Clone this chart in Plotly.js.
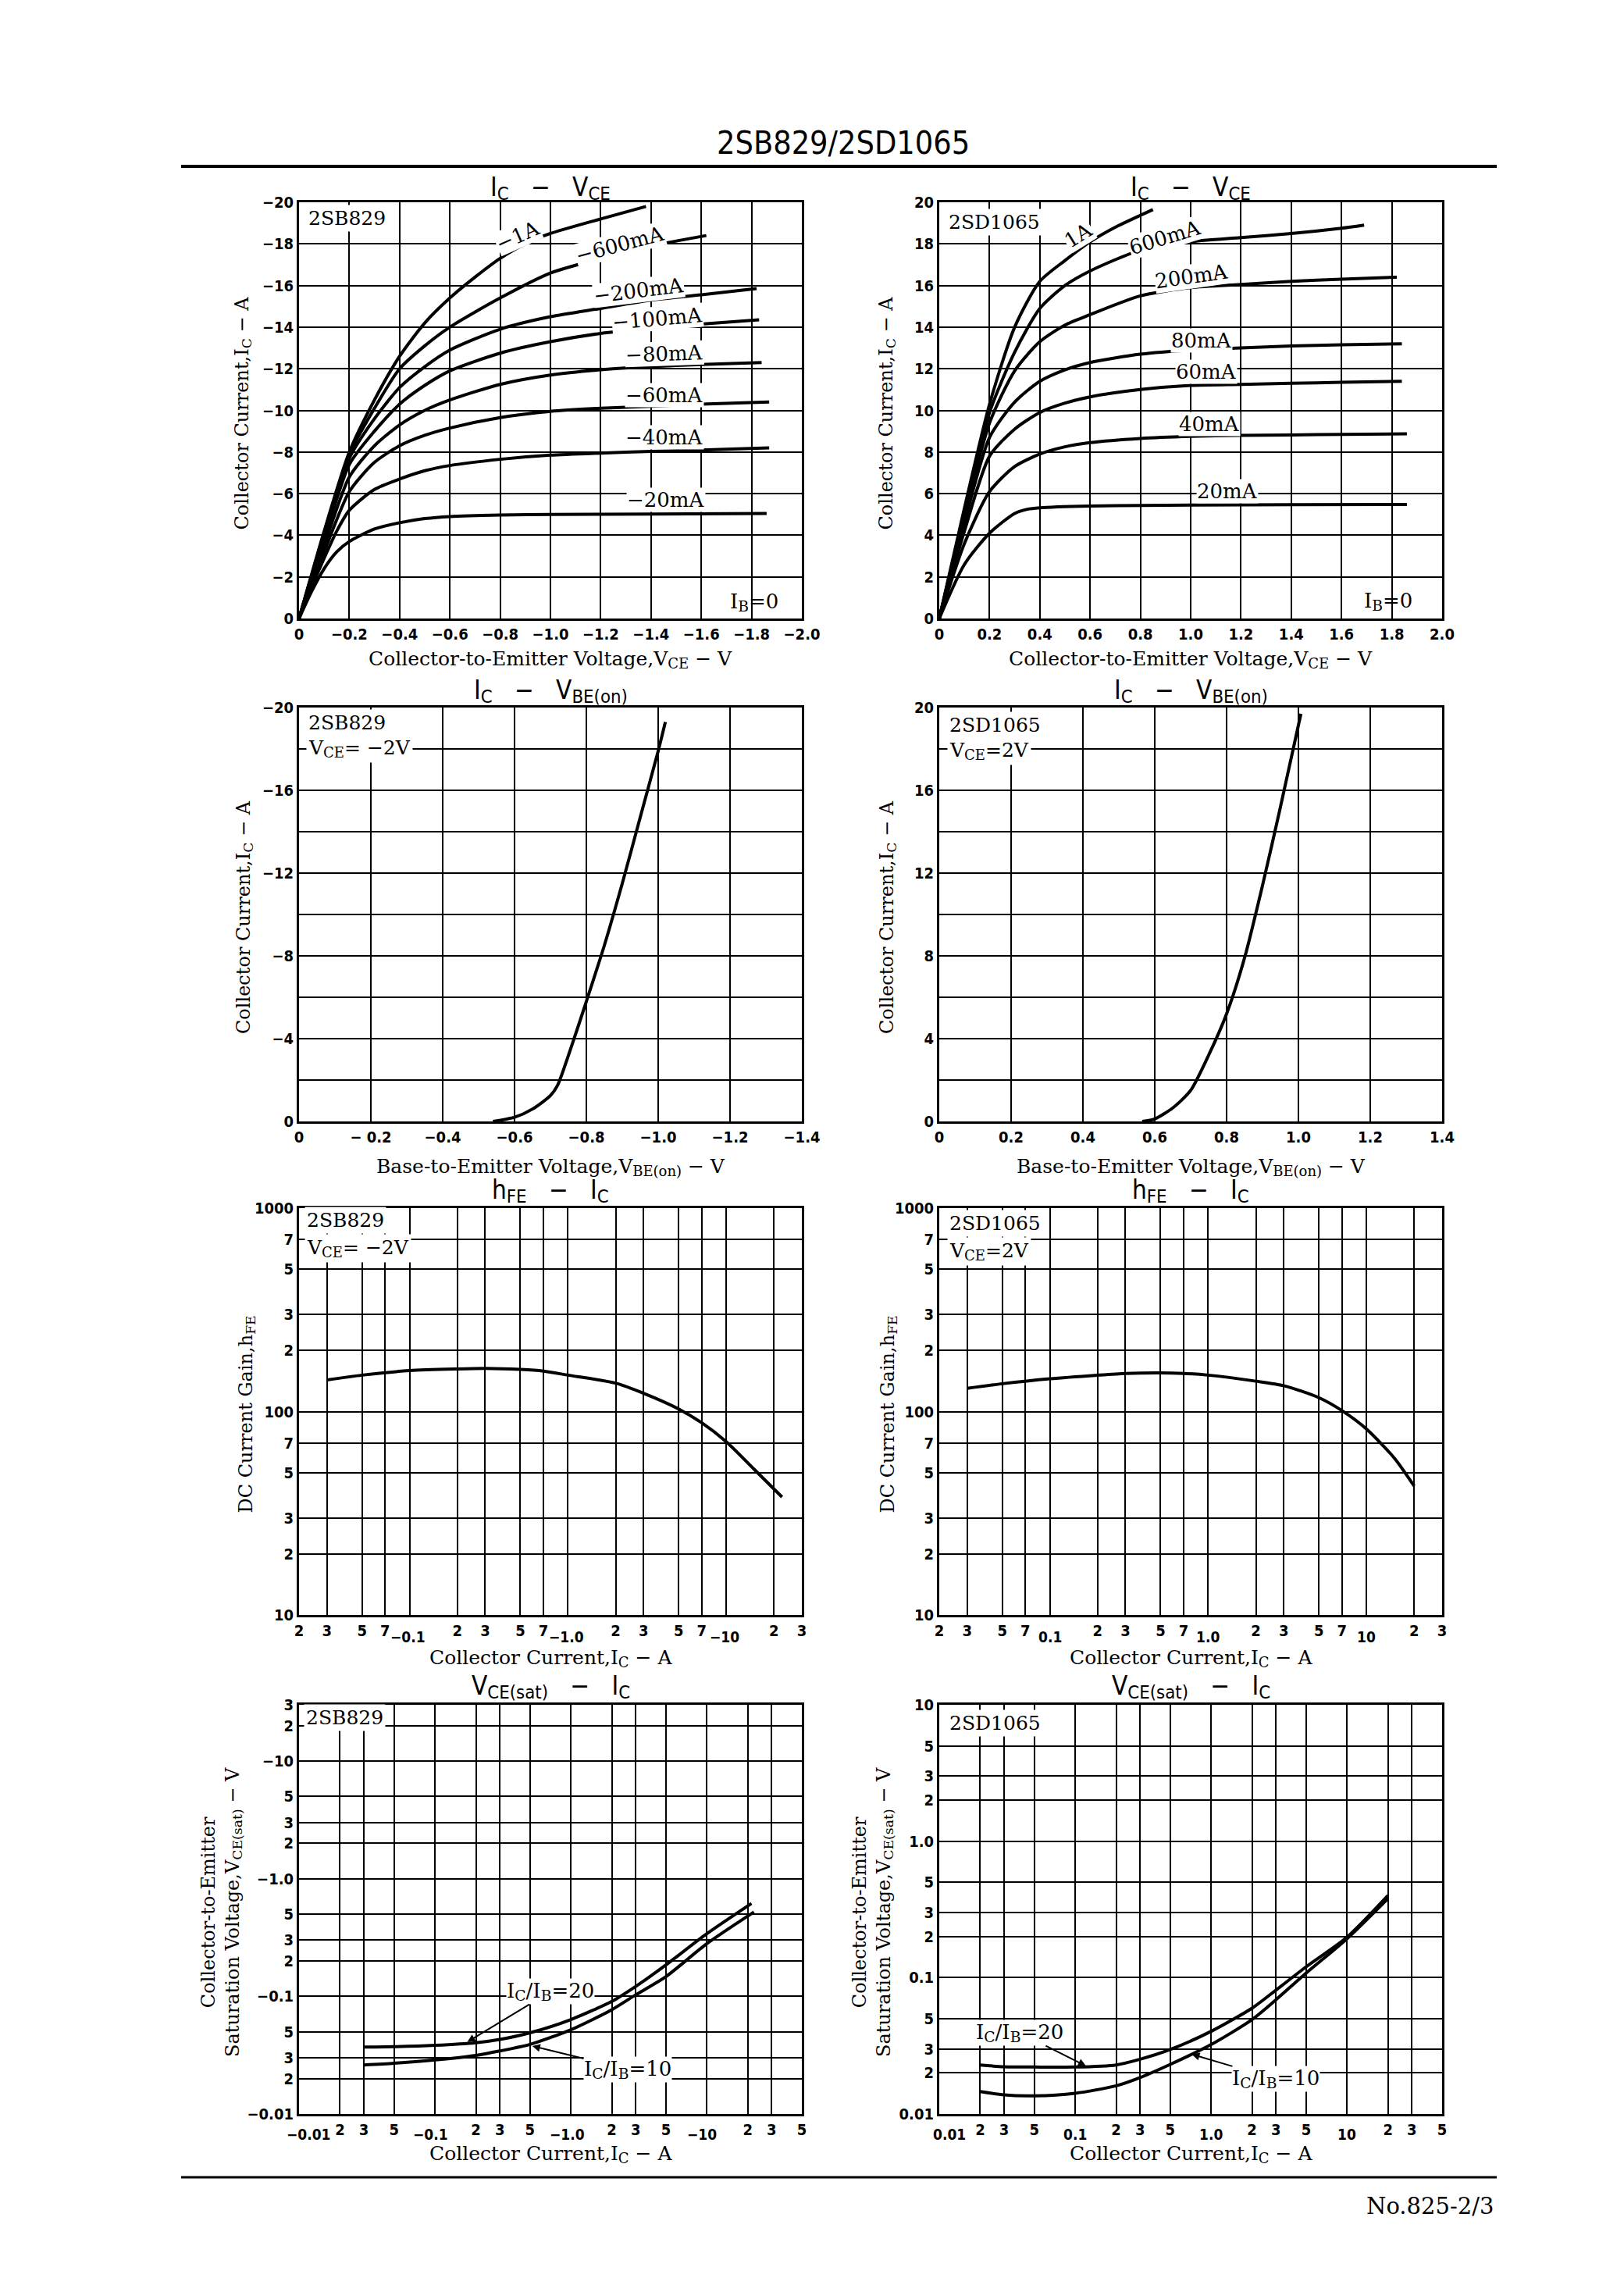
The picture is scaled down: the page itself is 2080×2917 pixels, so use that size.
<!DOCTYPE html>
<html><head><meta charset="utf-8">
<script src="https://cdn.plot.ly/plotly-3.0.1.min.js"></script>
<style>html,body{margin:0;padding:0;background:#fff}#chart{width:2080px;height:2917px}</style>
</head><body><div id="chart"></div>
<script>
// ================= DATA =================
// Panel 1: 2SB829  IC - VCE
const sb_vce_1A  = [0,-0.1,-0.2,-0.3,-0.4,-0.5,-0.6,-0.7,-0.8,-0.9,-1.0,-1.2,-1.38];
const sb_ic_1A   = [0,-4.2,-8.0,-10.5,-12.6,-14.2,-15.4,-16.4,-17.3,-18.0,-18.5,-19.2,-19.8];
const sb_vce_600 = [0,-0.1,-0.2,-0.3,-0.4,-0.5,-0.6,-0.8,-1.0,-1.2,-1.4,-1.62];
const sb_ic_600  = [0,-4.1,-7.9,-10.1,-12.0,-13.1,-14.0,-15.4,-16.6,-17.3,-17.9,-18.4];
const sb_vce_200 = [0,-0.1,-0.2,-0.3,-0.4,-0.5,-0.6,-0.8,-1.0,-1.2,-1.4,-1.6,-1.82];
const sb_ic_200  = [0,-4.0,-7.7,-9.6,-11.1,-12.1,-12.9,-13.9,-14.5,-14.9,-15.3,-15.55,-15.85];
const sb_vce_100 = [0,-0.1,-0.2,-0.3,-0.4,-0.5,-0.6,-0.8,-1.0,-1.2,-1.4,-1.6,-1.83];
const sb_ic_100  = [0,-3.8,-7.4,-9.0,-10.3,-11.2,-11.9,-12.75,-13.3,-13.7,-13.95,-14.15,-14.35];
const sb_vce_80  = [0,-0.1,-0.2,-0.3,-0.4,-0.5,-0.6,-0.8,-1.0,-1.2,-1.4,-1.6,-1.84];
const sb_ic_80   = [0,-3.5,-6.8,-8.3,-9.3,-10.0,-10.5,-11.25,-11.7,-11.95,-12.1,-12.2,-12.3];
const sb_vce_60  = [0,-0.1,-0.2,-0.3,-0.4,-0.5,-0.6,-0.8,-1.0,-1.2,-1.4,-1.6,-1.87];
const sb_ic_60   = [0,-3.2,-6.1,-7.5,-8.3,-8.8,-9.15,-9.65,-9.95,-10.1,-10.2,-10.3,-10.4];
const sb_vce_40  = [0,-0.05,-0.1,-0.15,-0.2,-0.3,-0.4,-0.5,-0.6,-0.8,-1.0,-1.2,-1.4,-1.6,-1.87];
const sb_ic_40   = [0,-1.5,-2.9,-4.2,-5.2,-6.2,-6.7,-7.1,-7.35,-7.65,-7.85,-7.95,-8.03,-8.1,-8.2];
const sb_vce_20  = [0,-0.05,-0.1,-0.15,-0.2,-0.3,-0.4,-0.5,-0.6,-0.8,-1.0,-1.4,-1.86];
const sb_ic_20   = [0,-1.3,-2.4,-3.2,-3.7,-4.3,-4.6,-4.8,-4.9,-4.97,-5.0,-5.02,-5.05];
const sb_ib_text = ['−1A','−600mA','−200mA','−100mA','−80mA','−60mA','−40mA','−20mA'];
const sb_ib_lx   = [-0.87,-1.277,-1.352,-1.425,-1.453,-1.453,-1.453,-1.46];
const sb_ib_ly   = [-18.4,-17.98,-15.76,-14.42,-12.73,-10.75,-8.7,-5.69];

// Panel 2: 2SD1065  IC - VCE
const ds_vce_1A  = [0,0.1,0.2,0.3,0.4,0.5,0.6,0.7,0.85];
const ds_ic_1A   = [0,5.3,10.3,14.0,16.2,17.2,18.1,18.8,19.65];
const ds_vce_600 = [0,0.1,0.2,0.3,0.4,0.5,0.6,0.8,1.0,1.2,1.4,1.6,1.69];
const ds_ic_600  = [0,5.1,9.9,12.8,14.9,16.0,16.7,17.7,18.1,18.3,18.5,18.75,18.9];
const ds_vce_200 = [0,0.1,0.2,0.3,0.4,0.5,0.6,0.8,1.0,1.2,1.4,1.6,1.82];
const ds_ic_200  = [0,4.9,9.4,11.9,13.3,14.1,14.6,15.5,15.9,16.05,16.2,16.3,16.4];
const ds_vce_80  = [0,0.1,0.2,0.3,0.4,0.5,0.6,0.8,1.0,1.2,1.4,1.6,1.84];
const ds_ic_80   = [0,4.6,8.7,10.4,11.4,11.95,12.3,12.7,12.9,13.0,13.1,13.15,13.2];
const ds_vce_60  = [0,0.1,0.2,0.3,0.4,0.5,0.6,0.8,1.0,1.2,1.4,1.6,1.84];
const ds_ic_60   = [0,4.2,7.8,9.1,9.9,10.35,10.65,11.0,11.2,11.25,11.3,11.35,11.4];
const ds_vce_40  = [0,0.1,0.2,0.3,0.4,0.5,0.6,0.8,1.0,1.2,1.4,1.6,1.86];
const ds_ic_40   = [0,3.6,6.1,7.3,7.9,8.25,8.45,8.65,8.75,8.8,8.82,8.85,8.87];
const ds_vce_20  = [0,0.1,0.2,0.3,0.35,0.4,0.6,0.8,1.0,1.4,1.86];
const ds_ic_20   = [0,2.6,4.1,5.05,5.25,5.32,5.4,5.43,5.45,5.47,5.48];
const ds_ib_text = ['1A','600mA','200mA','80mA','60mA','40mA','20mA'];
const ds_ib_lx   = [0.555,0.899,1.002,1.045,1.061,1.073,1.146];
const ds_ib_ly   = [18.42,18.31,16.45,13.37,11.87,9.34,6.11];

// Panel 3/4: IC - VBE(on)
const sb_vbe     = [-0.54,-0.6,-0.65,-0.7,-0.72,-0.76,-0.8,-0.85,-0.9,-0.95,-1.0,-1.02];
const sb_ic_vbe  = [0,-0.2,-0.6,-1.25,-1.75,-3.7,-5.8,-8.5,-11.5,-14.7,-17.9,-19.3];
const ds_vbe     = [0.565,0.6,0.65,0.7,0.75,0.8,0.85,0.9,0.95,1.007];
const ds_ic_vbe  = [0,0.12,0.65,1.5,3.2,5.2,7.9,11.4,15.2,19.7];

// Panel 5/6: hFE - IC  (|IC| in A)
const sb_hfe_ic  = [0.03,0.05,0.1,0.2,0.3,0.5,0.7,1,2,3,5,7,10,15,22.5];
const sb_hfe     = [143,151,159,162,163,161,158,151,138,123,103,88,71,52,38];
const ds_hfe_ic  = [0.03,0.05,0.1,0.2,0.3,0.5,0.7,1,2,3,5,7,10,15,20];
const ds_hfe     = [130,137,145,151,154,155,154,151,141,134,117,101,82,59,43];

// Panel 7/8: VCE(sat) - IC  (magnitudes)
const sb_sat_ic20 = [0.03,0.05,0.1,0.2,0.3,0.5,1,2,3,5,10,21.3];
const sb_sat_v20  = [0.037,0.0373,0.0383,0.0403,0.043,0.049,0.0635,0.0906,0.1215,0.185,0.34,0.615];
const sb_sat_ic10 = [0.03,0.05,0.1,0.2,0.3,0.5,1,2,3,5,10,22.2];
const sb_sat_v10  = [0.0261,0.027,0.0288,0.0315,0.0343,0.039,0.052,0.077,0.103,0.147,0.28,0.52];
const ds_sat_ic   = [0.02,0.03,0.05,0.1,0.2,0.3,0.5,1,2,3,5,10,20];
const ds_sat_v20  = [0.0229,0.0222,0.0221,0.0221,0.0229,0.0252,0.0297,0.0404,0.0597,0.081,0.12,0.198,0.40];
const ds_sat_v10  = [0.0146,0.0138,0.0136,0.0142,0.0161,0.0185,0.0231,0.0323,0.0492,0.0688,0.108,0.193,0.38];

// Tick values / labels
const p1_xticks = [0,-0.2,-0.4,-0.6,-0.8,-1.0,-1.2,-1.4,-1.6,-1.8,-2.0];
const p1_xtext  = ['0','−0.2','−0.4','−0.6','−0.8','−1.0','−1.2','−1.4','−1.6','−1.8','−2.0'];
const p1_yticks = [0,-2,-4,-6,-8,-10,-12,-14,-16,-18,-20];
const p1_ytext  = ['0','−2','−4','−6','−8','−10','−12','−14','−16','−18','−20'];
const p2_xticks = [0,0.2,0.4,0.6,0.8,1.0,1.2,1.4,1.6,1.8,2.0];
const p2_xtext  = ['0','0.2','0.4','0.6','0.8','1.0','1.2','1.4','1.6','1.8','2.0'];
const p2_yticks = [0,2,4,6,8,10,12,14,16,18,20];
const p2_ytext  = ['0','2','4','6','8','10','12','14','16','18','20'];
const p3_xticks = [0,-0.2,-0.4,-0.6,-0.8,-1.0,-1.2,-1.4];
const p3_xtext  = ['0','− 0.2','−0.4','−0.6','−0.8','−1.0','−1.2','−1.4'];
const p3_yticks = [0,-4,-8,-12,-16,-20];
const p3_ytext  = ['0','−4','−8','−12','−16','−20'];
const p3_yminor = [-2,-6,-10,-14,-18];
const p4_xticks = [0,0.2,0.4,0.6,0.8,1.0,1.2,1.4];
const p4_xtext  = ['0','0.2','0.4','0.6','0.8','1.0','1.2','1.4'];
const p4_yticks = [0,4,8,12,16,20];
const p4_ytext  = ['0','4','8','12','16','20'];
const p4_yminor = [2,6,10,14,18];
const hfe_xticks = [0.02,0.03,0.05,0.07,0.2,0.3,0.5,0.7,2,3,5,7,20,30];
const hfe_xtext  = ['2','3','5','7','2','3','5','7','2','3','5','7','2','3'];
const hfe_dec_vals = [0.1,1,10];
const hfe_dec_textL = ['−0.1','−1.0','−10'];
const hfe_dec_textR = ['0.1','1.0','10'];
const hfe_yticks = [10,20,30,50,70,100,200,300,500,700,1000];
const hfe_ytext  = ['10','2','3','5','7','100','2','3','5','7','1000'];
const sat_xticks = [0.02,0.03,0.05,0.2,0.3,0.5,2,3,5,20,30,50];
const sat_xtext  = ['2','3','5','2','3','5','2','3','5','2','3','5'];
const sat_dec_vals = [0.01,0.1,1,10];
const sat_dec_textL = ['−0.01','−0.1','−1.0','−10'];
const sat_dec_textR = ['0.01','0.1','1.0','10'];
const satL_yticks = [0.01,0.02,0.03,0.05,0.1,0.2,0.3,0.5,1,2,3,5,10,20,30];
const satL_ytext  = ['−0.01','2','3','5','−0.1','2','3','5','−1.0','2','3','5','−10','2','3'];
const satR_yticks = [0.01,0.02,0.03,0.05,0.1,0.2,0.3,0.5,1,2,3,5,10];
const satR_ytext  = ['0.01','2','3','5','0.1','2','3','5','1.0','2','3','5','10'];

// ================= LAYOUT / STYLE =================
const W = 2080, H = 2917;
const TICKF = "'Liberation Sans Narrow','DejaVu Sans Condensed','Roboto Condensed','Arial Narrow',sans-serif";
const SERIF = "'DejaVu Serif','Liberation Serif',serif";
const cols = [[383,1027],[1203,1847]];
const rowsPx = [[259,792],[906,1436],[1547,2068],[2183,2707]];
const lg = Math.log10;
// subscript without Plotly's zero-width baseline-reset spans
const sb = t => '<span style="font-size:72%;baseline-shift:-22%">' + t + '</span>';

function xr(i){ return 'x' + (i===1?'':i); }
function yr(i){ return 'y' + (i===1?'':i); }
function posOf(i){ const r = Math.floor((i-1)/2), c = (i-1)%2; return {r, c}; }

const layout = {
  width: W, height: H, margin:{l:0,r:0,t:0,b:0},
  paper_bgcolor:'#fff', plot_bgcolor:'#fff', showlegend:false,
  annotations:[], shapes:[]
};
const GRID = {showgrid:true, gridcolor:'#000', gridwidth:2, ticks:''};
function minorGrid(vals){ return {minor: Object.assign({tickmode:'array', tickvals:vals}, GRID)}; }

function setAxes(i, xo, yo){
  const {r,c} = posOf(i);
  const base = {
    showline:true, linecolor:'#000', linewidth:3, mirror:true,
    showgrid:true, gridcolor:'#000', gridwidth:2, zeroline:false,
    ticks:'', tickmode:'array', fixedrange:true,
    tickfont:{family:TICKF, size:20, color:'#000', weight:'bold'}
  };
  layout['xaxis'+(i===1?'':i)] = Object.assign({}, base, {
    domain:[cols[c][0]/W, cols[c][1]/W], anchor: yr(i)
  }, xo);
  layout['yaxis'+(i===1?'':i)] = Object.assign({}, base, {
    domain:[1-rowsPx[r][1]/H, 1-rowsPx[r][0]/H], anchor: xr(i)
  }, yo);
}

setAxes(1, {range:[0,-2.0], tickvals:p1_xticks, ticktext:p1_xtext},
           {range:[0,-20], tickvals:p1_yticks, ticktext:p1_ytext});
setAxes(2, {range:[0,2.0], tickvals:p2_xticks, ticktext:p2_xtext},
           {range:[0,20], tickvals:p2_yticks, ticktext:p2_ytext});
setAxes(3, {range:[0,-1.4], tickvals:p3_xticks, ticktext:p3_xtext},
           Object.assign({range:[0,-20], tickvals:p3_yticks, ticktext:p3_ytext}, minorGrid(p3_yminor)));
setAxes(4, {range:[0,1.4], tickvals:p4_xticks, ticktext:p4_xtext},
           Object.assign({range:[0,20], tickvals:p4_yticks, ticktext:p4_ytext}, minorGrid(p4_yminor)));
setAxes(5, Object.assign({type:'log', range:[lg(0.02),lg(30)], tickvals:hfe_xticks, ticktext:hfe_xtext}, minorGrid(hfe_dec_vals)),
           {type:'log', range:[1,3], tickvals:hfe_yticks, ticktext:hfe_ytext});
setAxes(6, Object.assign({type:'log', range:[lg(0.02),lg(30)], tickvals:hfe_xticks, ticktext:hfe_xtext}, minorGrid(hfe_dec_vals)),
           {type:'log', range:[1,3], tickvals:hfe_yticks, ticktext:hfe_ytext});
setAxes(7, Object.assign({type:'log', range:[-2,lg(50)], tickvals:sat_xticks, ticktext:sat_xtext}, minorGrid(sat_dec_vals)),
           {type:'log', range:[-2,lg(30)], tickvals:satL_yticks, ticktext:satL_ytext});
setAxes(8, Object.assign({type:'log', range:[-2,lg(50)], tickvals:sat_xticks, ticktext:sat_xtext}, minorGrid(sat_dec_vals)),
           {type:'log', range:[-2,1], tickvals:satR_yticks, ticktext:satR_ytext});

// ================= TRACES =================
const traces = [];
function curve(i, x, y){
  traces.push({x, y, xaxis:xr(i), yaxis:yr(i), type:'scatter', mode:'lines',
    line:{color:'#000', width:4, shape:'spline', smoothing:0.7},
    hoverinfo:'skip', showlegend:false});
}
[[sb_vce_1A,sb_ic_1A],[sb_vce_600,sb_ic_600],[sb_vce_200,sb_ic_200],[sb_vce_100,sb_ic_100],
 [sb_vce_80,sb_ic_80],[sb_vce_60,sb_ic_60],[sb_vce_40,sb_ic_40],[sb_vce_20,sb_ic_20]].forEach(p=>curve(1,p[0],p[1]));
[[ds_vce_1A,ds_ic_1A],[ds_vce_600,ds_ic_600],[ds_vce_200,ds_ic_200],[ds_vce_80,ds_ic_80],
 [ds_vce_60,ds_ic_60],[ds_vce_40,ds_ic_40],[ds_vce_20,ds_ic_20]].forEach(p=>curve(2,p[0],p[1]));
curve(3, sb_vbe, sb_ic_vbe);
curve(4, ds_vbe, ds_ic_vbe);
curve(5, sb_hfe_ic, sb_hfe);
curve(6, ds_hfe_ic, ds_hfe);
curve(7, sb_sat_ic20, sb_sat_v20);
curve(7, sb_sat_ic10, sb_sat_v10);
curve(8, ds_sat_ic, ds_sat_v20);
curve(8, ds_sat_ic, ds_sat_v10);

// ================= ANNOTATIONS =================
const A = layout.annotations;
function P(xpx, ypx, text, opt){
  A.push(Object.assign({xref:'paper', yref:'paper', x:xpx/W, y:1-ypx/H, text, showarrow:false,
    font:{family:SERIF, size:25, color:'#000'}, xanchor:'center', yanchor:'middle'}, opt||{}));
}
function D(i, x, y, text, opt){
  A.push(Object.assign({xref:xr(i), yref:yr(i), x, y, text, showarrow:false,
    font:{family:SERIF, size:26, color:'#000'}, bgcolor:'#fff', borderpad:0,
    xanchor:'center', yanchor:'middle'}, opt||{}));
}

// page header/footer
P(1080, 183, '2SB829/2SD1065', {font:{family:TICKF, size:41, color:'#000'}});
P(1831, 2825, 'No.825-2/3', {font:{family:SERIF, size:29, color:'#000'}});
layout.shapes.push({type:'line', xref:'paper', yref:'paper', x0:232/W, x1:1917/W, y0:1-213/H, y1:1-213/H, line:{color:'#000', width:4}});
layout.shapes.push({type:'line', xref:'paper', yref:'paper', x0:232/W, x1:1917/W, y0:1-2788/H, y1:1-2788/H, line:{color:'#000', width:3}});

// chart titles
const GAP = '\u00a0\u00a0\u00a0';
const chartTitles = [
  'I'+sb('C')+GAP+'−'+GAP+'V'+sb('CE'),
  'I'+sb('C')+GAP+'−'+GAP+'V'+sb('BE(on)'),
  'h'+sb('FE')+GAP+'−'+GAP+'I'+sb('C'),
  'V'+sb('CE(sat)')+GAP+'−'+GAP+'I'+sb('C')
];
const titleY = [241, 885, 1525, 2160];
const xTitles = [
  'Collector-to-Emitter Voltage,V'+sb('CE')+' − V',
  'Base-to-Emitter Voltage,V'+sb('BE(on)')+' − V',
  'Collector Current,I'+sb('C')+' − A',
  'Collector Current,I'+sb('C')+' − A'
];
const xTitleY = [844, 1494, 2123, 2758];
const yTitles = [
  'Collector Current,I'+sb('C')+' − A',
  'Collector Current,I'+sb('C')+' − A',
  'DC Current Gain,h'+sb('FE'),
  'Collector-to-Emitter<br>Saturation Voltage,V'+sb('CE(sat)')+' − V'
];
const yTitleX = [[310,1135],[313,1137],[315,1137],[283,1117]];
for (let r=0; r<4; r++){
  for (let c=0; c<2; c++){
    const cx = (cols[c][0]+cols[c][1])/2;
    const cy = (rowsPx[r][0]+rowsPx[r][1])/2;
    P(cx, titleY[r], chartTitles[r], {font:{family:TICKF, size:33, color:'#000'}});
    P(cx, xTitleY[r], xTitles[r]);
    P(yTitleX[r][c], cy+4, yTitles[r], {textangle:-90, font:{family:SERIF, size:24, color:'#000'}});
  }
}

// part labels inside plots
const partL = {font:{family:SERIF, size:25, color:'#000'}, xanchor:'left', bgcolor:'#fff', borderpad:2};
P(392, 279, '2SB829', partL);
P(1212, 284, '2SD1065', partL);
P(392, 925, '2SB829', partL);  P(392, 959, 'V'+sb('CE')+'= −2V', partL);
P(1213, 929, '2SD1065', partL); P(1213, 962, 'V'+sb('CE')+'=2V', partL);
P(390, 1562, '2SB829', partL);  P(390, 1598, 'V'+sb('CE')+'= −2V', partL);
P(1213, 1566, '2SD1065', partL); P(1213, 1602, 'V'+sb('CE')+'=2V', partL);
P(389, 2199, '2SB829', partL);
P(1213, 2206, '2SD1065', partL);

// curve labels panel 1 / 2
const sbAng = [-24,-15,-7,-5,-2,0,0,0];
sb_ib_text.forEach((t,k)=>D(1, sb_ib_lx[k], sb_ib_ly[k], t, {textangle:sbAng[k]}));
D(1, -1.81, -0.79, 'I'+sb('B')+'=0', {bgcolor:'rgba(0,0,0,0)'});
const dsAng = [-32,-17,-8,0,0,0,0];
ds_ib_text.forEach((t,k)=>D(2, ds_ib_lx[k], ds_ib_ly[k], t, {textangle:dsAng[k]}));
D(2, 1.787, 0.82, 'I'+sb('B')+'=0', {bgcolor:'rgba(0,0,0,0)'});

// decade labels under log x axes
const decShiftHfeL = [-2,-2,-2], decShiftHfeR = [0,0,0];
const decShiftSatL = [12,-6,-5,-6], decShiftSatR = [13,0,0,0];
function dec(i, vals, texts, shifts, yshift){
  vals.forEach((v,k)=>A.push({xref:xr(i), yref:yr(i)+' domain', x:lg(v), y:0, yshift:yshift, xshift:shifts[k],
    text:texts[k], showarrow:false, xanchor:'center', yanchor:'middle',
    font:{family:TICKF, size:19, color:'#000', weight:'bold'}}));
}
dec(5, hfe_dec_vals, hfe_dec_textL, decShiftHfeL, -28);
dec(6, hfe_dec_vals, hfe_dec_textR, decShiftHfeR, -28);
dec(7, sat_dec_vals, sat_dec_textL, decShiftSatL, -26);
dec(8, sat_dec_vals, sat_dec_textR, decShiftSatR, -26);

// IC/IB labels with leader arrows (log axes -> log10 coords)
function arrowLab(i, tipX, tipY, txtX, txtY, text){
  A.push({xref:xr(i), yref:yr(i), x:lg(tipX), y:lg(tipY), axref:xr(i), ayref:yr(i),
    ax:lg(txtX), ay:lg(txtY), text, showarrow:true, arrowhead:2, arrowsize:1, arrowwidth:2,
    arrowcolor:'#000', bgcolor:'#fff', borderpad:0,
    font:{family:SERIF, size:26, color:'#000'}});
}
arrowLab(7, 0.173, 0.041, 0.71, 0.11, 'I'+sb('C')+'/I'+sb('B')+'=20');
arrowLab(7, 0.52, 0.0378, 2.62, 0.024, 'I'+sb('C')+'/I'+sb('B')+'=10');
arrowLab(8, 0.12, 0.0225, 0.0393, 0.0393, 'I'+sb('C')+'/I'+sb('B')+'=20');
arrowLab(8, 0.72, 0.0274, 3.0, 0.018, 'I'+sb('C')+'/I'+sb('B')+'=10');

Plotly.newPlot('chart', traces, layout, {staticPlot:true, displayModeBar:false});
</script></body></html>
